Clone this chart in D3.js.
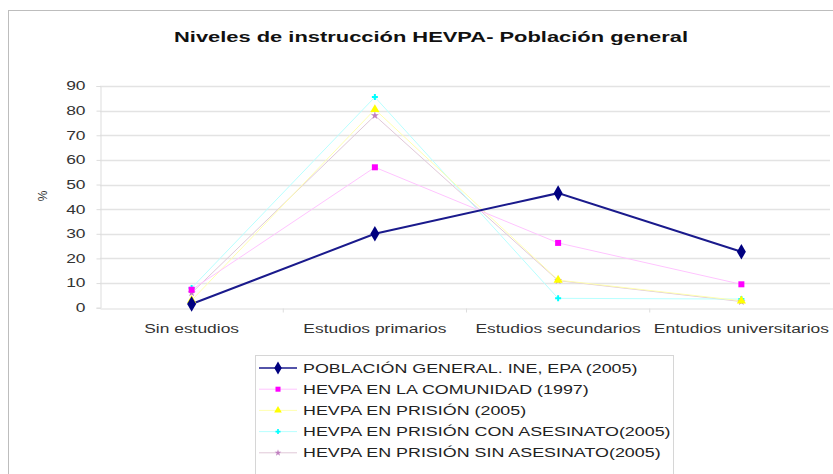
<!DOCTYPE html>
<html lang="en">
<head>
<meta charset="utf-8">
<title>Niveles de instrucción</title>
<script src="https://d3js.org/d3.v7.min.js"></script>
<style>
  body { margin: 0; background: #fff; }
  svg { font-family: "Liberation Sans", Arial, sans-serif; }
</style>
</head>
<body>
<svg id="chart" width="833" height="474"></svg>
<script>
// categories and values
var categories = ["Sin estudios", "Estudios primarios", "Estudios secundarios", "Entudios universitarios"];
var poblacionGeneral = [1.5, 30, 46.5, 22.7];
var hevpaComunidad = [7.3, 57, 26.3, 9.5];
var hevpaPrision = [3, 80.5, 11.2, 2.8];
var hevpaConAsesinato = [8, 85.5, 3.8, 3.5];
var hevpaSinAsesinato = [6, 78, 11, 2.5];
var yTicks = [0, 10, 20, 30, 40, 50, 60, 70, 80, 90];

var series = [
  { name: "POBLACIÓN GENERAL. INE, EPA (2005)", values: poblacionGeneral, color: "#000080", line: "#1a1a8c", width: 2, shape: d3.symbolDiamond, size: 70 },
  { name: "HEVPA EN LA COMUNIDAD (1997)", values: hevpaComunidad, color: "#ff00ff", line: "#ffc4ff", width: 1, shape: d3.symbolSquare, size: 36 },
  { name: "HEVPA EN PRISIÓN (2005)", values: hevpaPrision, color: "#ffff00", line: "#ffffb0", width: 1, shape: d3.symbolTriangle, size: 36 },
  { name: "HEVPA EN PRISIÓN CON ASESINATO(2005)", values: hevpaConAsesinato, color: "#00ffff", line: "#b8ffff", width: 1, shape: d3.symbolCross, size: 20 },
  { name: "HEVPA EN PRISIÓN SIN ASESINATO(2005)", values: hevpaSinAsesinato, color: "#c080c0", line: "#e0c8d8", width: 1, shape: d3.symbolStar, size: 20 }
];

// the picture's lettering is stretched sideways; widen text to match
function widen(sel, factor) {
  sel.each(function () {
    var w = this.getComputedTextLength();
    d3.select(this).attr("textLength", w * factor).attr("lengthAdjust", "spacingAndGlyphs");
  });
}

var svg = d3.select("#chart");

// chart frame
svg.append("rect")
  .attr("x", 8.5).attr("y", 10.5)
  .attr("width", 840).attr("height", 480)
  .attr("fill", "#fff")
  .attr("stroke", "#bdbdbd");

// title
svg.append("text")
  .attr("x", 431).attr("y", 42)
  .attr("text-anchor", "middle")
  .attr("font-size", 15.5).attr("font-weight", "bold")
  .attr("fill", "#111")
  .attr("textLength", 514).attr("lengthAdjust", "spacingAndGlyphs")
  .text("Niveles de instrucción HEVPA- Población general");

var plot = { left: 100, right: 833, top: 86, bottom: 307.7 };

var x = d3.scaleBand().domain(categories).range([plot.left, plot.right]);
var y = d3.scaleLinear().domain([0, 90]).range([plot.bottom, plot.top]);

// gridlines
svg.append("g")
  .selectAll("line").data(yTicks.filter(function (d) { return d > 0; }))
  .enter().append("line")
  .attr("x1", plot.left).attr("x2", 830)
  .attr("y1", function (d) { return Math.round(y(d)) + 0.5; })
  .attr("y2", function (d) { return Math.round(y(d)) + 0.5; })
  .attr("stroke", "#e3e3e3").attr("stroke-width", 1.5);

// y axis
var yAxis = svg.append("g")
  .attr("transform", "translate(" + (plot.left + 0.5) + ",0)")
  .call(d3.axisLeft(y).tickValues(yTicks).tickSize(4).tickPadding(11));
yAxis.selectAll("text").attr("font-size", 12).attr("fill", "#333").attr("font-family", "Liberation Sans, Arial, sans-serif");
widen(yAxis.selectAll("text"), 1.45);
yAxis.selectAll("line").attr("stroke", "#ddd");
yAxis.select(".domain").attr("stroke", "#ddd");

// x axis
var xAxis = svg.append("g")
  .attr("transform", "translate(0," + (Math.round(plot.bottom) + 0.5) + ")")
  .call(d3.axisBottom(x).tickSize(0).tickPadding(16));
xAxis.selectAll("text").attr("font-size", 12).attr("fill", "#333").attr("font-family", "Liberation Sans, Arial, sans-serif");
widen(xAxis.selectAll("text"), 1.45);
xAxis.select(".domain").attr("stroke", "#ddd");
xAxis.selectAll(".sep").data(categories.slice(1)).enter().append("line")
  .attr("class", "sep")
  .attr("x1", function (d) { return x(d); }).attr("x2", function (d) { return x(d); })
  .attr("y1", 0).attr("y2", 4).attr("stroke", "#ddd");

// y label
svg.append("text")
  .attr("transform", "translate(47,196) rotate(-90)")
  .attr("text-anchor", "middle")
  .attr("font-size", 12).attr("fill", "#333")
  .text("%");

// lines and markers
var line = d3.line()
  .x(function (d, i) { return x(categories[i]) + x.bandwidth() / 2; })
  .y(function (d) { return y(d); });

series.slice().reverse().forEach(function (s) {
  svg.append("path")
    .datum(s.values)
    .attr("d", line)
    .attr("fill", "none")
    .attr("stroke", s.line)
    .attr("stroke-width", s.width);
});
series.slice().reverse().forEach(function (s) {
  svg.append("g").selectAll("path").data(s.values).enter().append("path")
    .attr("transform", function (d, i) {
      return "translate(" + (x(categories[i]) + x.bandwidth() / 2) + "," + y(d) + ")";
    })
    .attr("d", d3.symbol().type(s.shape).size(s.size))
    .attr("fill", s.color);
});

// legend
var legend = svg.append("g");
legend.append("rect")
  .attr("x", 255.5).attr("y", 355.5)
  .attr("width", 418).attr("height", 130)
  .attr("fill", "#fff").attr("stroke", "#d6d6d6");

var item = legend.selectAll(".item").data(series).enter().append("g")
  .attr("transform", function (d, i) { return "translate(0," + (368 + i * 21.2) + ")"; });
item.append("line")
  .attr("x1", 259).attr("x2", 297).attr("y1", 0).attr("y2", 0)
  .attr("stroke", function (d) { return d.line; })
  .attr("stroke-width", function (d) { return d.width === 2 ? 1.5 : 1; });
item.append("path")
  .attr("transform", "translate(278,0)")
  .attr("d", function (d) { return d3.symbol().type(d.shape).size(d.size * 0.7)(); })
  .attr("fill", function (d) { return d.color; });
var legendText = item.append("text")
  .attr("x", 303).attr("y", 4.5)
  .attr("font-size", 12.5).attr("fill", "#222")
  .text(function (d) { return d.name; });
widen(legendText, 1.43);
</script>
</body>
</html>
